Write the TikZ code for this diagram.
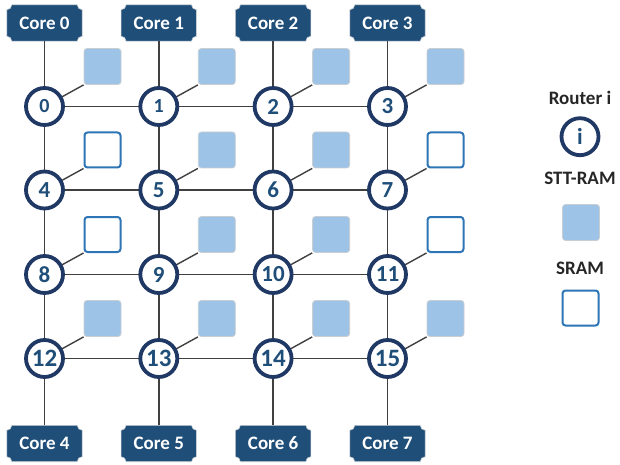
\documentclass[tikz,border=0pt]{standalone}
\usepackage{fontspec}
\setmainfont{Carlito}
\definecolor{corefill}{HTML}{1F4E79}
\definecolor{routerline}{HTML}{1F3864}
\definecolor{routertext}{HTML}{1F4E79}
\definecolor{sttfill}{HTML}{9DC3E6}
\definecolor{sttline}{HTML}{C9CED3}
\definecolor{sramline}{HTML}{2E75B6}
\definecolor{linkline}{HTML}{404040}
\definecolor{legtext}{HTML}{262626}
\tikzset{
  router/.style={circle, draw=routerline, line width=3.8pt, fill=white, minimum size=37pt, inner sep=0pt, text=routertext, font=\bfseries},
  corebox/.style={rectangle, minimum width=75pt, minimum height=36pt, inner sep=0pt},
  coretext/.style={text=white, font=\fontsize{19}{20}\selectfont\bfseries},
  stt/.style={rectangle, rounded corners=3pt, fill=sttfill, draw=sttline, line width=0.8pt, minimum width=37pt, minimum height=36pt, inner sep=0pt},
  sram/.style={rectangle, rounded corners=3pt, fill=white, draw=sramline, line width=2pt, minimum width=36pt, minimum height=35pt, inner sep=0pt},
  link/.style={draw=linkline, line width=1.8pt},
  legend/.style={text=legtext, font=\fontsize{19}{20}\selectfont\bfseries},
}
\newcommand\plaque[1]{%
  \fill[corefill, draw=sttline, line width=0.6pt]
    ([xshift=5pt]#1.north west) -- ([xshift=-5pt]#1.north east)
    arc[start angle=180, end angle=270, radius=5pt]
    -- ([yshift=5pt]#1.south east)
    arc[start angle=90, end angle=180, radius=5pt]
    -- ([xshift=5pt]#1.south west)
    arc[start angle=0, end angle=90, radius=5pt]
    -- ([yshift=-5pt]#1.north west)
    arc[start angle=270, end angle=360, radius=5pt] -- cycle;}
\begin{document}
\begin{tikzpicture}[x=1pt, y=1pt]
\useasboundingbox (0,0) rectangle (620,464);
% column / row positions
\def\cA{44.5}\def\cB{158.8}\def\cC{273.1}\def\cD{387.5}
\def\rA{357.5}\def\rB{274}\def\rC{189.5}\def\rD{105.5}
% routers
\foreach \n/\x/\y/\s in {0/\cA/\rA/20, 1/\cB/\rA/20, 2/\cC/\rA/23, 3/\cD/\rA/23,
  4/\cA/\rB/23, 5/\cB/\rB/23, 6/\cC/\rB/23, 7/\cD/\rB/23,
  8/\cA/\rC/23, 9/\cB/\rC/23, 10/\cC/\rC/23, 11/\cD/\rC/23,
  12/\cA/\rD/25, 13/\cB/\rD/25, 14/\cC/\rD/25, 15/\cD/\rD/25}
  \coordinate (p\n) at (\x,\y);
% memory blocks
\foreach \n/\t in {0/stt,1/stt,2/stt,3/stt,4/sram,5/stt,6/stt,7/sram,8/sram,9/stt,10/stt,11/sram,12/stt,13/stt,14/stt,15/stt}
  \node[\t] (m\n) at ([xshift=58pt,yshift=40pt]p\n) {};
% cores
\foreach \k/\x in {0/\cA,1/\cB,2/\cC,3/\cD} {
  \node[corebox] (c\k) at (\x,441) {};
  \plaque{c\k}
  \node[coretext] at (c\k) {Core \k};
}
\foreach \k/\x in {4/\cA,5/\cB,6/\cC,7/\cD} {
  \node[corebox] (c\k) at (\x,20.5) {};
  \plaque{c\k}
  \node[coretext] at (c\k) {Core \k};
}
% links
\foreach \a/\b in {0/1,1/2,2/3,4/5,5/6,6/7,8/9,9/10,10/11,12/13,13/14,14/15,
  0/4,4/8,8/12,1/5,5/9,9/13,2/6,6/10,10/14,3/7,7/11,11/15}
  \draw[link] (p\a) -- (p\b);
\foreach \k/\r in {0/0,1/1,2/2,3/3} \draw[link] (c\k.south) -- (p\r);
\foreach \k/\r in {4/12,5/13,6/14,7/15} \draw[link] (c\k.north) -- (p\r);
\foreach \n in {0,...,15} \draw[link, line width=1.4pt] (p\n) -- (m\n.south west);
% router nodes on top
\foreach \n/\s in {0/20,1/20,2/23,3/23,4/23,5/23,6/23,7/23,8/23,9/23,10/23,11/23,12/25,13/25,14/25,15/25}
  \node[router, font=\fontsize{\s}{\s}\selectfont\bfseries] (r\n) at (p\n) {\n};
% legend
\node[legend] (lr) at (580,366) {Router i};
\node[router, font=\fontsize{23}{23}\selectfont\bfseries] (li) at (580,327.3) {i};
\node[legend] (ls) at (580,286) {STT-RAM};
\node[stt] (lstt) at (581,241.5) {};
\node[legend] (lsr) at (580,196) {SRAM};
\node[sram] (lsram) at (580.5,156) {};
\end{tikzpicture}
\end{document}
